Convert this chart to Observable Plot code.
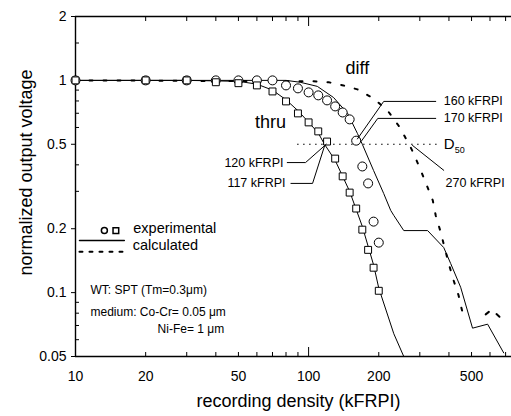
<!DOCTYPE html>
<html><head><meta charset="utf-8">
<script src="https://cdn.jsdelivr.net/npm/d3@7"></script>
<script src="https://cdn.jsdelivr.net/npm/@observablehq/plot@0.6"></script>
<style>html,body{margin:0;padding:0;overflow:hidden;background:#fff}</style>
</head><body><div id="chart"></div>
<script>
// ---- data (kFRPI vs normalized output voltage) ----
const densities = [10,20,30,40,50,60,70,80,90,100,110,120,130,140,150,160,170,180,190,200];
const thruExperimental = [1,1,1,0.98,0.97,0.947,0.887,0.796,0.699,0.634,0.575,0.515,0.428,0.353,0.296,0.249,0.198,0.159,0.131,0.102];
const diffExperimental = [1,1,1,1,1,1,1,0.947,0.917,0.878,0.85,0.805,0.754,0.706,0.655,0.52,0.393,0.327,0.216,0.172];

const thruCalcX = [10,30,50,60,70,80,90,100,110,117,130,150,170,190,200,232,256];
const thruCalcY = [1,1,0.99,0.96,0.9,0.81,0.72,0.635,0.565,0.5,0.42,0.3,0.205,0.135,0.105,0.064,0.05];

const diffCalcX = [10,80,92,109,128,147,162,170,190,210,225,232,256,324,380,407,449,505,586,687];
const diffCalcY = [1,1,0.98,0.937,0.83,0.699,0.562,0.5,0.376,0.293,0.244,0.231,0.196,0.196,0.163,0.137,0.106,0.068,0.071,0.052];

const diffCalc2X = [10,105,122,141,162,190,218,243,270,282,303,324,341,351,369,399,419,440,458];
const diffCalc2Y = [1,0.99,0.98,0.947,0.907,0.822,0.722,0.613,0.5,0.453,0.376,0.313,0.272,0.231,0.192,0.137,0.114,0.097,0.08];
const diffCalc2TailX = [575,610,667];
const diffCalc2TailY = [0.079,0.083,0.076];

const xTickLabels = [10,20,50,100,200,500];
const xMinorTicks = [20,30,40,50,60,70,80,90,200,300,400,500,600,700];
const xMajorTicks = [100];
const yTickLabels = [0.05,0.1,0.2,0.5,1,2];
const yMinorTicks = [0.06,0.07,0.08,0.09,0.3,0.4,0.6,0.7,0.8,0.9,1.5];

// ---- annotations (data coordinates) ----
const labelTexts = ["160 kFRPI","170 kFRPI","270 kFRPI"];
const labelX = [380,380,387];
const labelY = [0.796,0.662,0.327];
const leftLabelTexts = ["120 kFRPI","117 kFRPI"];
const leftLabelX = [78,79.6];
const leftLabelY = [0.41,0.327];
const pointers = [
  [[351,0.796],[210,0.796],[162,0.53]],
  [[351,0.662],[198,0.662],[169,0.52]],
  [[279,0.494],[380,0.377]],
  [[81,0.41],[97,0.41],[119,0.5]],
  [[84,0.327],[104,0.327],[117,0.49]]
];
const pointerRows = pointers.flatMap((p, i) => p.map(([x, y]) => ({x, y, id: i})));

const rows = (xs, ys) => xs.map((x, i) => ({x, y: ys[i]}));
const font = "'Liberation Sans', Arial, Helvetica, sans-serif";

const chart = Plot.plot({
  width: 511, height: 416,
  marginLeft: 75, marginRight: 0, marginTop: 16, marginBottom: 60,
  style: {fontFamily: font, background: "#fff", color: "#000"},
  x: {type: "log", domain: [10, 742], label: null},
  y: {type: "log", domain: [0.05, 2], label: null},
  marks: [
    // frame lines
    Plot.ruleY([2], {stroke: "#000", strokeWidth: 1.6}),
    Plot.ruleY([0.05], {stroke: "#000", strokeWidth: 1.6}),
    Plot.ruleX([10], {stroke: "#000", strokeWidth: 1.4}),
    // axes
    Plot.axisX({ticks: xTickLabels, tickSize: 0, tickPadding: 15, tickFormat: d => String(d), fontSize: 14, label: null}),
    Plot.axisX({ticks: xMinorTicks, tickSize: -4, tickFormat: () => "", label: null}),
    Plot.axisX({ticks: xMajorTicks, tickSize: -9, tickFormat: () => "", label: null}),
    Plot.axisX({anchor: "top", ticks: xMinorTicks, tickSize: -4, tickFormat: () => "", label: null}),
    Plot.axisX({anchor: "top", ticks: xMajorTicks, tickSize: -9, tickFormat: () => "", label: null}),
    Plot.axisY({ticks: yTickLabels, tickSize: 4, tickPadding: 5, tickFormat: d => String(d), fontSize: 14, label: null}),
    Plot.axisY({ticks: yMinorTicks, tickSize: -4, tickFormat: () => "", label: null}),
    Plot.text(["normalized output voltage"], {frameAnchor: "left", textAnchor: "middle", lineAnchor: "middle", rotate: -90, dx: -49, dy: -14, fontSize: 18}),
    Plot.text(["recording density (kFRPI)"], {frameAnchor: "bottom", lineAnchor: "middle", dx: 5, dy: 45, fontSize: 18}),
    // D50 line
    Plot.ruleY([0.5], {x1: 89.7, x2: 369, stroke: "#000", strokeDasharray: "1.5,4.5", strokeWidth: 1.2}),
    // calculated curves
    Plot.line(rows(thruCalcX, thruCalcY), {x: "x", y: "y", stroke: "#000", strokeWidth: 1, clip: true}),
    Plot.line(rows(diffCalcX, diffCalcY), {x: "x", y: "y", stroke: "#000", strokeWidth: 1, clip: true}),
    Plot.line(rows(diffCalc2X, diffCalc2Y), {x: "x", y: "y", stroke: "#000", strokeWidth: 2, strokeDasharray: "3,11", clip: true}),
    Plot.line(rows(diffCalc2TailX, diffCalc2TailY), {x: "x", y: "y", stroke: "#000", strokeWidth: 2, strokeDasharray: "4,10", clip: true}),
    // experimental
    Plot.dot(rows(densities, diffExperimental), {x: "x", y: "y", symbol: "circle", r: 4.5, stroke: "#000", fill: "#fff", strokeWidth: 1}),
    Plot.dot(rows(densities, thruExperimental), {x: "x", y: "y", symbol: "square", r: 3.9, stroke: "#000", fill: "#fff", strokeWidth: 1}),
    // pointers and labels
    Plot.line(pointerRows, {x: "x", y: "y", z: "id", stroke: "#000", strokeWidth: 1}),
    Plot.text(labelTexts, {x: (d, i) => labelX[i], y: (d, i) => labelY[i], text: d => d, textAnchor: "start", fontSize: 12.5}),
    Plot.text(leftLabelTexts, {x: (d, i) => leftLabelX[i], y: (d, i) => leftLabelY[i], text: d => d, textAnchor: "end", fontSize: 12.5}),
    Plot.text(["D"], {x: 380, y: 0.5, textAnchor: "start", fontSize: 15}),
    Plot.text(["50"], {x: 380, y: 0.5, dx: 11, dy: 6, textAnchor: "start", fontSize: 9}),
    Plot.text(["diff"], {x: 162, y: 1.14, fontSize: 18}),
    Plot.text(["thru"], {x: 68.7, y: 0.634, fontSize: 18}),
    // legend
    Plot.dot([{x: 13.3, y: 0.196}], {x: "x", y: "y", symbol: "circle", r: 3, stroke: "#000", fill: "#fff"}),
    Plot.dot([{x: 14.9, y: 0.196}], {x: "x", y: "y", symbol: "square", r: 3.2, stroke: "#000", fill: "#fff"}),
    Plot.text(["experimental"], {x: 17.7, y: 0.2, textAnchor: "start", fontSize: 14.5}),
    Plot.line([{x: 10.4, y: 0.176}, {x: 16.2, y: 0.176}], {x: "x", y: "y", stroke: "#000"}),
    Plot.line([{x: 10.4, y: 0.156}, {x: 16.2, y: 0.156}], {x: "x", y: "y", stroke: "#000", strokeWidth: 2, strokeDasharray: "3,7"}),
    Plot.text(["calculated"], {x: 17.6, y: 0.167, textAnchor: "start", fontSize: 14.5}),
    // notes
    Plot.text(["WT: SPT (Tm=0.3μm)"], {x: 11.6, y: 0.1026, textAnchor: "start", fontSize: 12}),
    Plot.text(["medium: Co-Cr= 0.05 μm"], {x: 11.6, y: 0.0812, textAnchor: "start", fontSize: 12}),
    Plot.text(["Ni-Fe= 1 μm"], {x: 22.5, y: 0.0676, textAnchor: "start", fontSize: 12})
  ]
});
document.getElementById("chart").appendChild(chart);
</script>
</body></html>
